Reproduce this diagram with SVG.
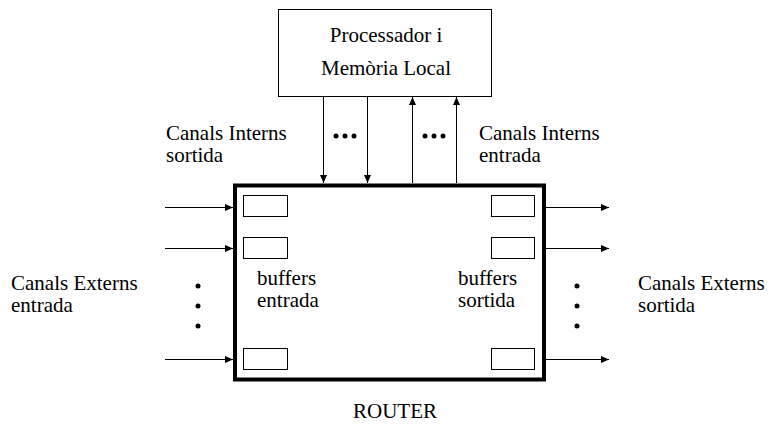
<svg xmlns="http://www.w3.org/2000/svg" width="770" height="424" viewBox="0 0 770 424">
<style>
text{font-family:"Liberation Serif","Times New Roman",serif;font-size:21px;fill:#000}
.ln{stroke:#000;stroke-width:1;fill:none}
.buf{fill:#fff;stroke:#000;stroke-width:1}
.dot{fill:#000}
</style>
<defs>
<marker id="ah" markerWidth="8" markerHeight="8" refX="8" refY="4" orient="auto" markerUnits="userSpaceOnUse">
<path d="M0,0.5 L8,4 L0,7.5 Z" fill="#000"/>
</marker>
</defs>
<rect width="770" height="424" fill="#fff"/>
<g id="processor">
<rect x="278.5" y="9.5" width="213" height="87" fill="#fff" stroke="#000" stroke-width="1"/>
<text x="386" y="42" text-anchor="middle">Processador i</text>
<text x="386" y="75" text-anchor="middle">Memòria Local</text>
</g>
<g id="router">
<rect x="235" y="185.5" width="309" height="194" fill="#fff" stroke="#000" stroke-width="4"/>
<rect class="buf" x="243.5" y="195.5" width="44" height="21"/>
<rect class="buf" x="243.5" y="237.5" width="44" height="21"/>
<rect class="buf" x="243.5" y="348.5" width="44" height="21"/>
<rect class="buf" x="491.5" y="195.5" width="43" height="21"/>
<rect class="buf" x="491.5" y="237.5" width="43" height="21"/>
<rect class="buf" x="491.5" y="348.5" width="43" height="21"/>
<text x="257" y="285">buffers</text>
<text x="257" y="307">entrada</text>
<text x="458" y="285">buffers</text>
<text x="458" y="307">sortida</text>
<text x="395" y="418" text-anchor="middle">ROUTER</text>
</g>
<g id="labels">
<text x="166" y="140">Canals Interns</text>
<text x="166" y="162">sortida</text>
<text x="479" y="140">Canals Interns</text>
<text x="479" y="162">entrada</text>
<text x="11" y="290">Canals Externs</text>
<text x="11" y="312">entrada</text>
<text x="638" y="290">Canals Externs</text>
<text x="638" y="312">sortida</text>
</g>
<g id="connectors">
<line class="ln" x1="323.5" y1="97" x2="323.5" y2="183" marker-end="url(#ah)"/>
<line class="ln" x1="367.5" y1="97" x2="367.5" y2="183" marker-end="url(#ah)"/>
<line class="ln" x1="412.5" y1="183" x2="412.5" y2="97" marker-end="url(#ah)"/>
<line class="ln" x1="456.5" y1="183" x2="456.5" y2="97" marker-end="url(#ah)"/>
<line class="ln" x1="165" y1="207.5" x2="233" y2="207.5" marker-end="url(#ah)"/>
<line class="ln" x1="165" y1="248.5" x2="233" y2="248.5" marker-end="url(#ah)"/>
<line class="ln" x1="165" y1="359.5" x2="233" y2="359.5" marker-end="url(#ah)"/>
<line class="ln" x1="546" y1="207.5" x2="609" y2="207.5" marker-end="url(#ah)"/>
<line class="ln" x1="546" y1="248.5" x2="609" y2="248.5" marker-end="url(#ah)"/>
<line class="ln" x1="546" y1="359.5" x2="609" y2="359.5" marker-end="url(#ah)"/>
</g>
<g id="dots">
<circle class="dot" cx="336" cy="136" r="2.5"/>
<circle class="dot" cx="345" cy="136" r="2.5"/>
<circle class="dot" cx="354" cy="136" r="2.5"/>
<circle class="dot" cx="425" cy="136" r="2.5"/>
<circle class="dot" cx="434" cy="136" r="2.5"/>
<circle class="dot" cx="443" cy="136" r="2.5"/>
<circle class="dot" cx="198" cy="286" r="2.5"/>
<circle class="dot" cx="198" cy="306" r="2.5"/>
<circle class="dot" cx="198" cy="326" r="2.5"/>
<circle class="dot" cx="577" cy="286" r="2.5"/>
<circle class="dot" cx="577" cy="306" r="2.5"/>
<circle class="dot" cx="577" cy="326" r="2.5"/>
</g>
</svg>
